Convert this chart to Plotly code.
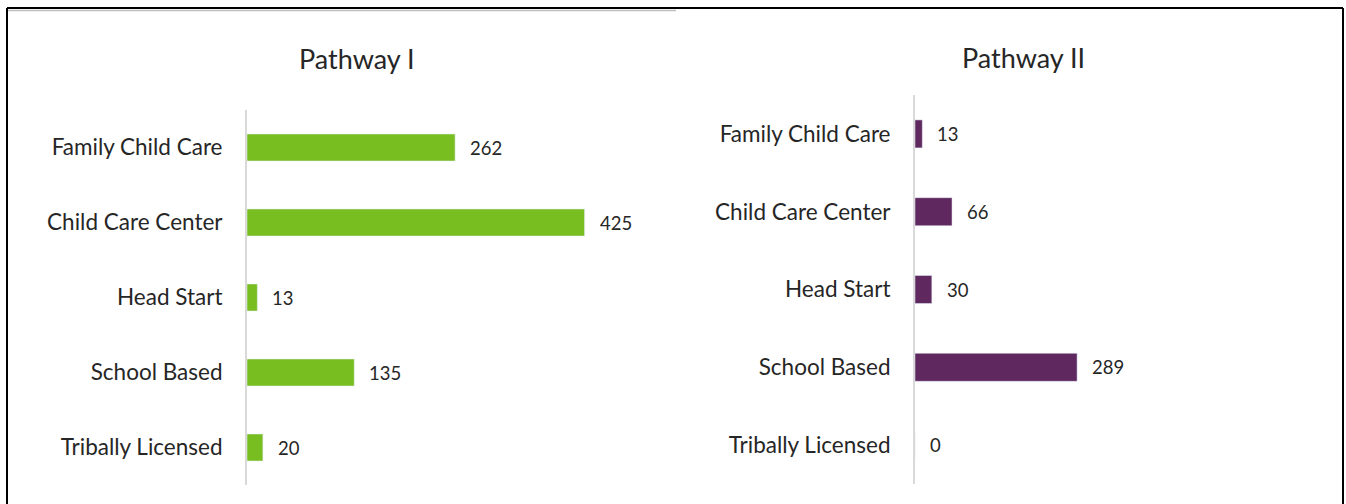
import plotly.graph_objects as go

# ---- data ----
categories = ["Family Child Care", "Child Care Center", "Head Start", "School Based", "Tribally Licensed"]
pathway1_values = [262, 425, 13, 135, 20]
pathway2_values = [13, 66, 30, 289, 0]
titles = ["Pathway I", "Pathway II"]

# ---- layout constants ----
W, H = 1346, 504
GREEN = "#78BE20"
PURPLE = "#5F285F"
AXIS_GREY = "#D9D9D9"
TEXT = "#262626"
FONT = "Lato"


def px(x):
    return x / W


def py(y):
    return 1 - y / H


fig = go.Figure()

fig.add_trace(go.Bar(
    x=pathway1_values, y=categories, orientation="h",
    marker=dict(color=GREEN), width=0.36,
    xaxis="x", yaxis="y", hoverinfo="x+y", showlegend=False,
))
fig.add_trace(go.Bar(
    x=pathway2_values, y=categories, orientation="h",
    marker=dict(color=PURPLE), width=0.36,
    xaxis="x2", yaxis="y2", hoverinfo="x+y", showlegend=False,
))

annotations = []
for v, c in zip(pathway1_values, categories):
    annotations.append(dict(x=v, y=c, xref="x", yref="y", text=str(v), showarrow=False,
                            xanchor="left", xshift=13, font=dict(family=FONT, size=18.5, color=TEXT)))
for v, c in zip(pathway2_values, categories):
    annotations.append(dict(x=v, y=c, xref="x2", yref="y2", text=str(v), showarrow=False,
                            xanchor="left", xshift=13, font=dict(family=FONT, size=18.5, color=TEXT)))

annotations.append(dict(x=px(357), y=py(58), xref="paper", yref="paper", text=titles[0],
                        showarrow=False, xanchor="center", yanchor="middle",
                        font=dict(family=FONT, size=27, color=TEXT)))
annotations.append(dict(x=px(1023), y=py(57), xref="paper", yref="paper", text=titles[1],
                        showarrow=False, xanchor="center", yanchor="middle",
                        font=dict(family=FONT, size=27, color=TEXT)))

xaxis_common = dict(showgrid=False, zeroline=False, showticklabels=False, showline=False, fixedrange=True)
yaxis_common = dict(showgrid=False, zeroline=False, showline=True, linecolor=AXIS_GREY, linewidth=2,
                    autorange="reversed", ticks="", ticklabelstandoff=18,
                    tickfont=dict(family=FONT, size=22.5, color=TEXT), fixedrange=True)

shapes = [
    dict(type="line", xref="paper", yref="paper", x0=px(8), x1=px(676), y0=py(10.5), y1=py(10.5),
         line=dict(color="#BFBFBF", width=1.5)),
    dict(type="line", xref="paper", yref="paper", x0=px(7), x1=px(1343), y0=py(8), y1=py(8),
         line=dict(color="black", width=2)),
    dict(type="line", xref="paper", yref="paper", x0=px(7), x1=px(7), y0=py(8), y1=py(520),
         line=dict(color="black", width=2)),
    dict(type="line", xref="paper", yref="paper", x0=px(1343), x1=px(1343), y0=py(8), y1=py(520),
         line=dict(color="black", width=2)),
]

fig.update_layout(
    width=W, height=H,
    margin=dict(l=0, r=0, t=0, b=0),
    paper_bgcolor="white", plot_bgcolor="white",
    font=dict(family=FONT, color=TEXT),
    xaxis=dict(domain=[px(247), px(660)], range=[0, 520], anchor="y", **xaxis_common),
    yaxis=dict(domain=[py(485), py(110)], anchor="x", **yaxis_common),
    xaxis2=dict(domain=[px(915), px(1320)], range=[0, 722], anchor="y2", **xaxis_common),
    yaxis2=dict(domain=[py(484), py(95)], anchor="x2", **yaxis_common),
    annotations=annotations,
    shapes=shapes,
)

fig.write_html("out.html", config={"displayModeBar": False},
               post_script="document.body.style.margin='0px';document.body.style.overflow='hidden';")
